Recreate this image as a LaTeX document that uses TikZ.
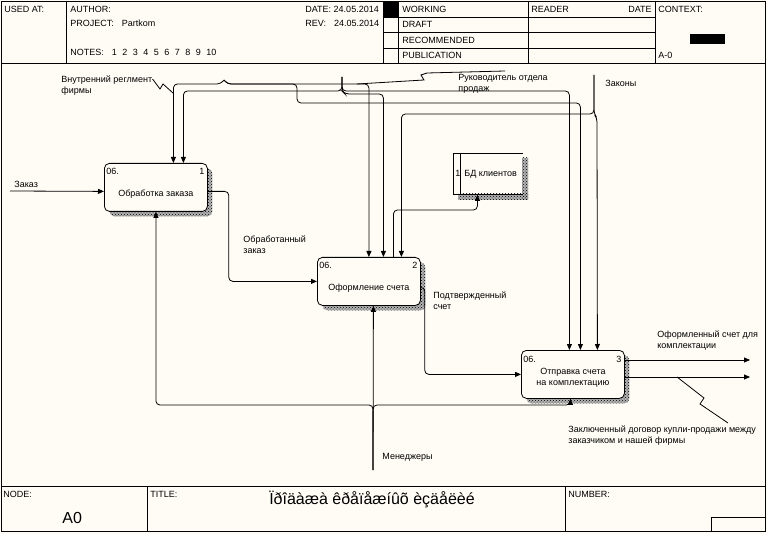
\documentclass[tikz,border=0pt]{standalone}
\usepackage{fontspec}
\setmainfont{Liberation Sans}
\usepackage{tikz}
\usetikzlibrary{arrows.meta,positioning,patterns}

\definecolor{paper}{RGB}{254,252,245}

\begin{document}
\begin{tikzpicture}[x=1pt, y=-1pt, line width=0.8pt,
    txt/.style={font=\fontsize{9}{11}\selectfont, inner sep=0pt, anchor=base west},
    lbl/.style={txt, anchor=north west, align=left},
    big/.style={font=\fontsize{16}{18}\selectfont},
    func/.style={draw, rounded corners=5pt, fill=paper, anchor=north west,
        minimum width=103pt, minimum height=48pt, inner sep=0pt,
        preaction={fill=black!30, transform canvas={shift={(5pt,-5pt)}}},
        preaction={pattern=crosshatch dots, transform canvas={shift={(5pt,-5pt)}}}},
    shade/.style={pattern=crosshatch dots},
    arrow/.style={-{Triangle[length=6pt,width=5pt]}, rounded corners=4pt},
    wire/.style={rounded corners=4pt}]

    % sheet
    \fill[paper] (0,0) rectangle (767,534);
    \draw (1,1) rectangle (765,531);
    \draw (1,63) -- (765,63) (1,486) -- (765,486);
    \foreach \x in {66,383,398,528,655} \draw (\x,1) -- (\x,63);
    \foreach \y in {17,32,48} \draw (383,\y) -- (655,\y);
    \fill (383,1) rectangle (398,17);
    \fill (690,34) rectangle (725,44);
    \draw (147,486) -- (147,531) (565,486) -- (565,531);
    \draw (711,531) |- (765,517);

    % header
    \node[txt] (usedat) at (4,13) {USED AT:};
    \node[txt] (author) at (70,13) {AUTHOR:};
    \node[txt] (project) at (70,27) {PROJECT:\hspace{8pt}Partkom};
    \node[txt] (notes) at (70,56) {NOTES:\hspace{8pt}1\hspace{5.5pt}2\hspace{5.5pt}3\hspace{5.5pt}4\hspace{5.5pt}5\hspace{5.5pt}6\hspace{5.5pt}7\hspace{5.5pt}8\hspace{5.5pt}9\hspace{5.5pt}10};
    \node[txt] (date) at (305,13) {DATE:\ 24.05.2014};
    \node[txt] (rev) at (305,27) {REV:\hspace{8pt}24.05.2014};
    \node[txt] (working) at (402,13) {WORKING};
    \node[txt] (draft) at (402,28) {DRAFT};
    \node[txt] (recom) at (402,43.5) {RECOMMENDED};
    \node[txt] (publ) at (402,59) {PUBLICATION};
    \node[txt] (reader) at (531,13) {READER};
    \node[txt, anchor=base east] (rdate) at (652,13) {DATE};
    \node[txt] (context) at (658,13) {CONTEXT:};
    \node[txt] (ctxno) at (658,59) {A-0};

    % footer
    \node[txt] (nodelab) at (3,497) {NODE:};
    \node[txt, big] (nodeno) at (62,523) {A0};
    \node[txt] (titlelab) at (150,497) {TITLE:};
    \node[txt, big, anchor=base] (title) at (372,504) {Ïðîäàæà êðåïåæíûõ èçäåëèé};
    \node[txt] (numlab) at (568,497) {NUMBER:};

    % functions
    \node[func] (b1) at (104,163) {};
    \node[func] (b2) at (317,257) {};
    \node[func] (b3) at (521,350) {};
    \foreach \b/\n in {b1/1, b2/2, b3/3} {
        \node[txt] (\b id) at ([shift={(2pt,-12pt)}]\b.north west) {06.};
        \node[txt, anchor=base east] (\b no) at ([shift={(-3pt,-12pt)}]\b.north east) {\n};
    }
    \node[txt, anchor=base] (b1txt) at ([yshift=-34pt]b1.north) {Обработка заказа};
    \node[txt, anchor=base] (b2txt) at ([yshift=-33pt]b2.north) {Оформление счета};
    \node[txt, anchor=north, align=center] (b3txt) at ([yshift=-18pt]b3.north) {Отправка счета\\на комплектацию};

    % data store
    \node[anchor=north west, minimum width=69pt, minimum height=41pt, inner sep=0pt] (store) at (453,153) {};
    \fill[black!30] (522,158) rectangle (528,200) (458,194) rectangle (528,200);
    \fill[shade] (522,158) rectangle (528,200);
    \fill[shade] (458,194) rectangle (528,200);
    \draw (store.north east) -- (store.north west) -- (store.south west) -- (store.south east);
    \draw ([xshift=7pt]store.north west) -- ([xshift=7pt]store.south west);
    \node[txt] (storeno) at (455,177) {1};
    \node[txt] (storetxt) at (464,177) {БД клиентов};

    % boundary points
    \coordinate (zin) at (10,191);
    \coordinate (vr) at (224,80);
    \coordinate (ruk) at (342,77);
    \coordinate (zak) at (594,75);
    \coordinate (mgr) at (373,470);
    \coordinate (o1) at (750,360);
    \coordinate (o2) at (750,377);

    % inputs and outputs
    \draw[arrow] (zin) -- ([yshift=-4pt]b1.west);
    \draw[arrow] ([yshift=-4pt]b1.east) -- ++(21,0) |- (b2.west);
    \draw[arrow] ([yshift=-6pt]b2.east) -- ++(4,0) |- (b3.west);
    \draw[arrow] (b3.east |- o1) -- (o1);
    \draw[arrow] (b3.east |- o2) -- (o2);
    \draw[arrow] ([xshift=24.5pt]b2.north) -- ++(0,-47) -| ([xshift=-10.5pt]store.south);

    % controls
    \draw[arrow] (vr) -- ++(-3,4) -| ([xshift=17.5pt]b1.north);
    \draw[arrow] (vr) -- ++(3,4) -| (b2.north);
    \draw[arrow] (vr) -- ++(3,4) -- ++(70,0) -- ++(0,19) -| ([xshift=7.5pt]b3.north);
    \draw[arrow] (ruk) -- ++(0,14) -| ([xshift=27.5pt]b1.north);
    \draw[arrow] (ruk) -- ++(0,14) -| ([xshift=-3.5pt]b3.north);
    \draw[arrow] (ruk) -- ++(0,14) -- ++(3,3) -| ([xshift=14.5pt]b2.north);
    \draw[arrow] (zak) -- ++(0,39) -| ([xshift=32.5pt]b2.north);
    \draw[arrow] (zak) -- ++(0,39) -- ++(3,4) -- ([xshift=24.5pt]b3.north);

    % mechanisms
    \draw[arrow] (mgr) -- ([xshift=4.5pt]b2.south);
    \draw[arrow] (mgr) -- ++(0,-65) -| (b1.south);
    \draw[arrow] (mgr) -- ++(0,-65) -| ([xshift=-2.5pt]b3.south);

    % labels
    \node[txt] (zinlab) at (14,188) {Заказ};
    \node[lbl] (vrlab) at (61,75) {Внутренний реглмент\\фирмы};
    \node[lbl] (ruklab) at (458,74) {Руководитель отдела\\продаж};
    \node[txt] (zaklab) at (605,87) {Законы};
    \node[lbl] (obrlab) at (243,235) {Обработанный\\заказ};
    \node[lbl] (podlab) at (433,291) {Подтвержденный\\счет};
    \node[lbl] (o1lab) at (657,330) {Оформленный счет для\\комплектации};
    \node[lbl] (o2lab) at (568,425) {Заключенный договор купли-продажи между\\заказчиком и нашей фирмы};
    \node[txt] (mgrlab) at (382,459) {Менеджеры};

    % squiggles
    \draw (vrlab.north east) ++(0,4) -- (160,89) -- (163,84) -- (173,93);
    \draw (357,84) -- (424,80) -- (421,75) -- (427,73) -- (505,71);
    \draw (677,377) -- (704,398) -- (700,404) -- (728,423);
\end{tikzpicture}
\end{document}
